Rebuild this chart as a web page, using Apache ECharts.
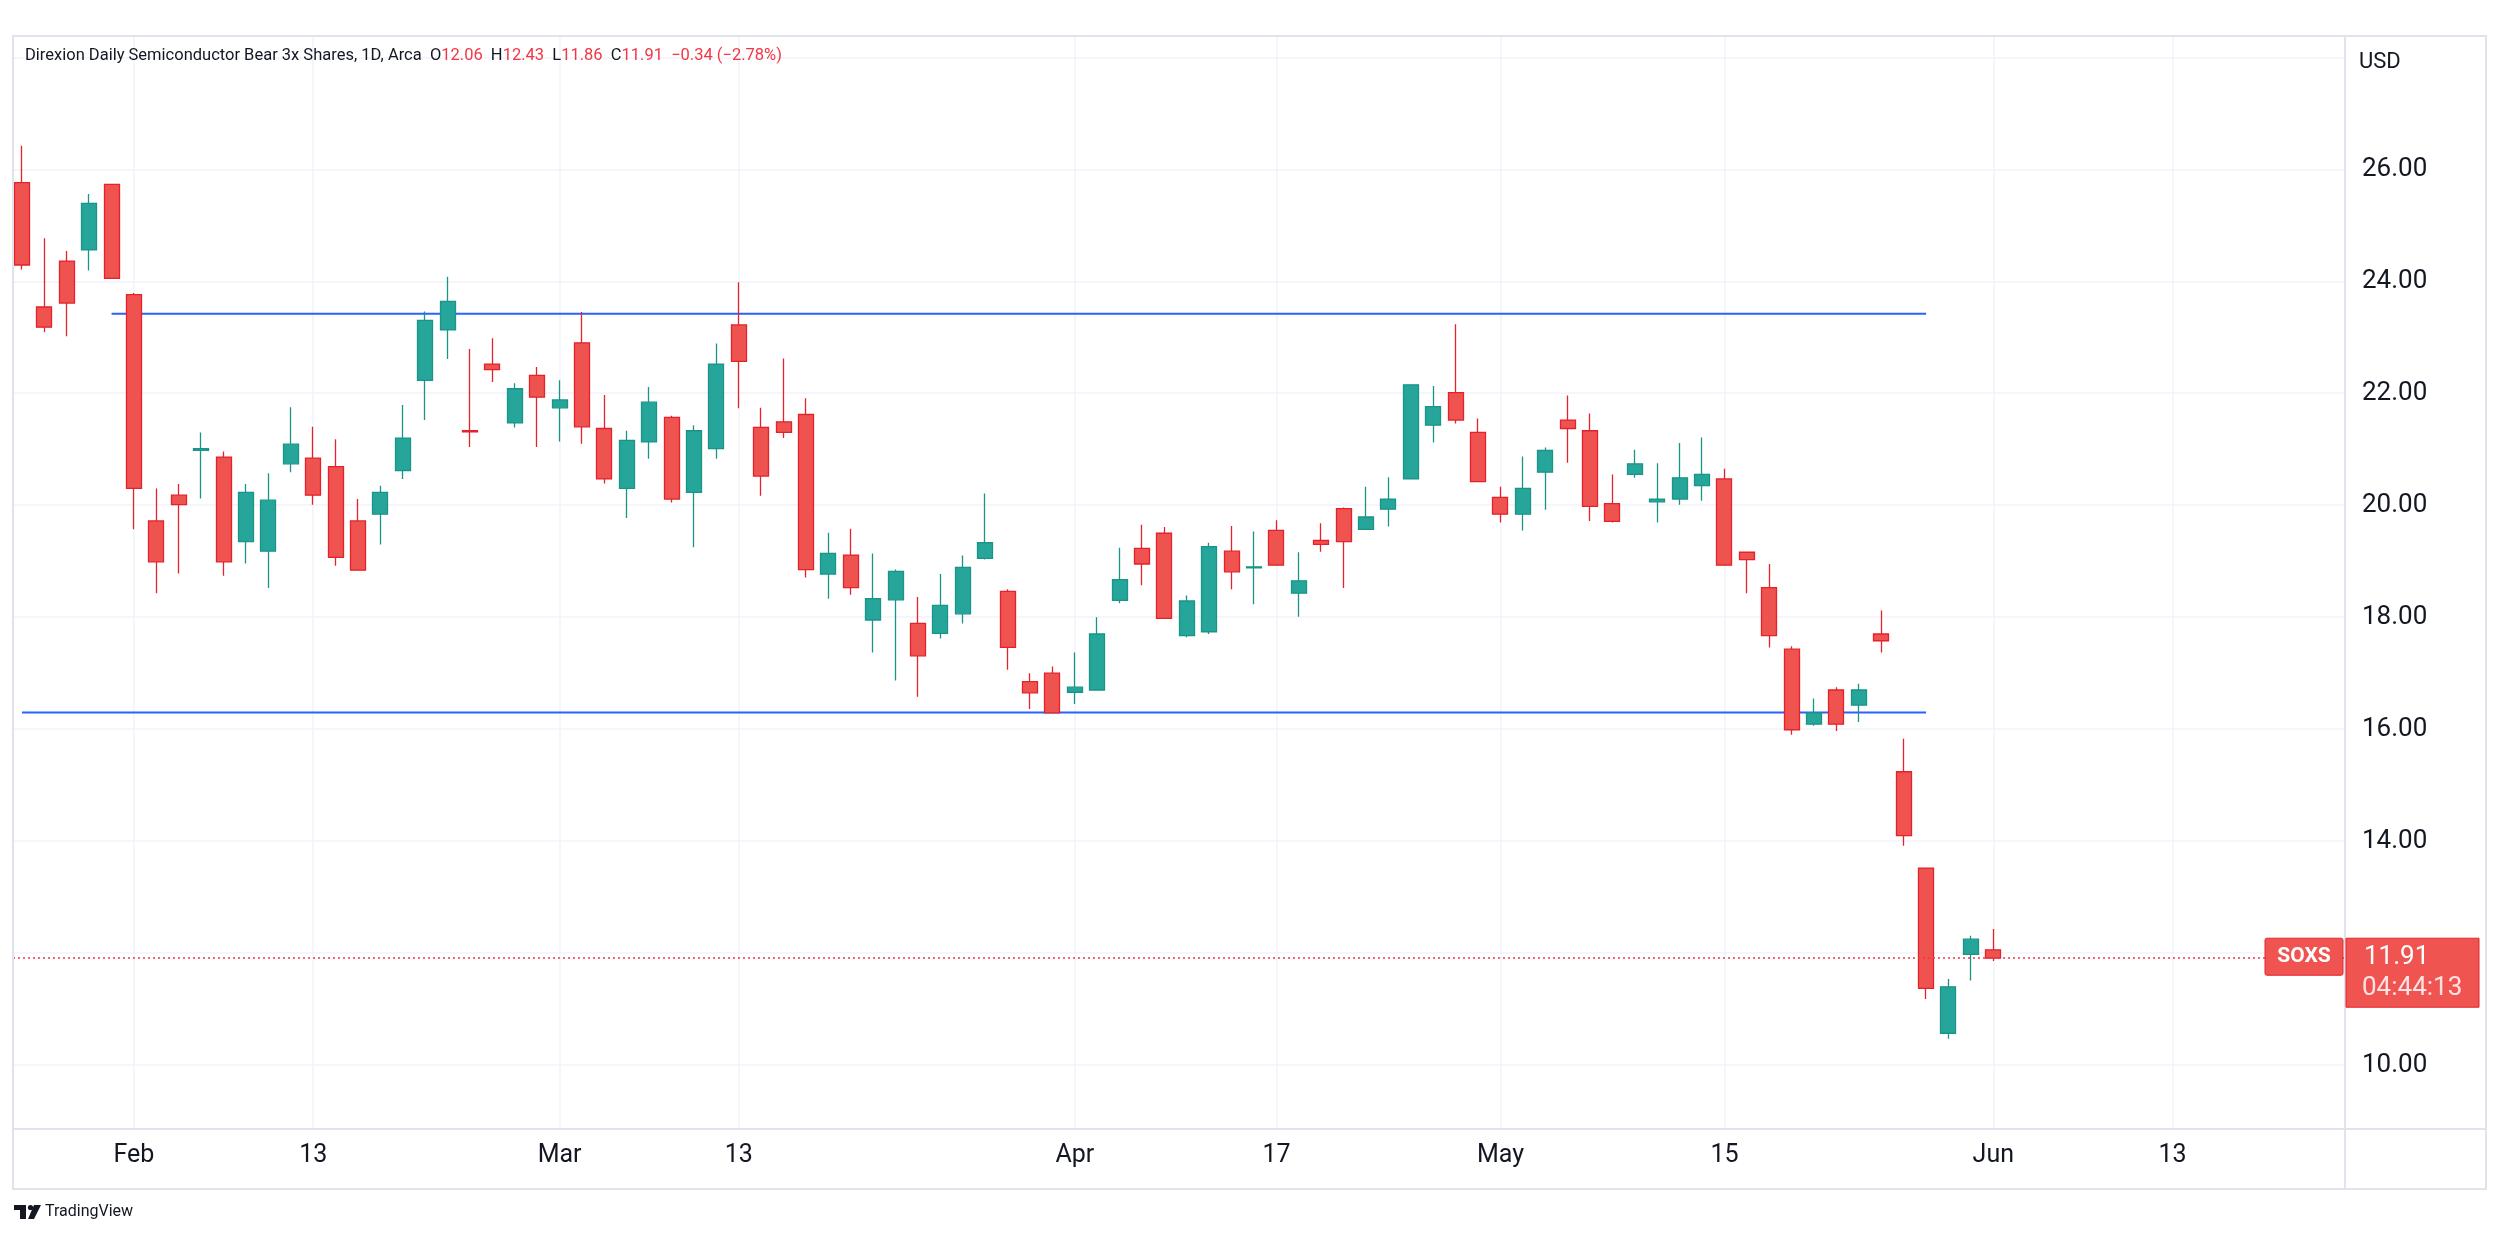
<!DOCTYPE html>
<html>
<head>
<meta charset="utf-8">
<title>SOXS daily</title>
<script src="https://cdn.jsdelivr.net/npm/echarts@6/dist/echarts.min.js"></script>
<style>
html, body { margin: 0; padding: 0; background: #fff; }
#chart { width: 2500px; height: 1236px; }
</style>
</head>
<body>
<div id="chart"></div>
<script>
// trading days (the last 8 are empty future slots on the time scale)
const dates = [
    '2023-01-25', '2023-01-26', '2023-01-27', '2023-01-30', '2023-01-31',
    '2023-02-01', '2023-02-02', '2023-02-03', '2023-02-06', '2023-02-07', '2023-02-08', '2023-02-09', '2023-02-10',
    '2023-02-13', '2023-02-14', '2023-02-15', '2023-02-16', '2023-02-17', '2023-02-21', '2023-02-22', '2023-02-23',
    '2023-02-24', '2023-02-27', '2023-02-28',
    '2023-03-01', '2023-03-02', '2023-03-03', '2023-03-06', '2023-03-07', '2023-03-08', '2023-03-09', '2023-03-10',
    '2023-03-13', '2023-03-14', '2023-03-15', '2023-03-16', '2023-03-17', '2023-03-20', '2023-03-21', '2023-03-22',
    '2023-03-23', '2023-03-24', '2023-03-27', '2023-03-28', '2023-03-29', '2023-03-30', '2023-03-31',
    '2023-04-03', '2023-04-04', '2023-04-05', '2023-04-06', '2023-04-10', '2023-04-11', '2023-04-12', '2023-04-13',
    '2023-04-14', '2023-04-17', '2023-04-18', '2023-04-19', '2023-04-20', '2023-04-21', '2023-04-24', '2023-04-25',
    '2023-04-26', '2023-04-27', '2023-04-28',
    '2023-05-01', '2023-05-02', '2023-05-03', '2023-05-04', '2023-05-05', '2023-05-08', '2023-05-09', '2023-05-10',
    '2023-05-11', '2023-05-12', '2023-05-15', '2023-05-16', '2023-05-17', '2023-05-18', '2023-05-19', '2023-05-22',
    '2023-05-23', '2023-05-24', '2023-05-25', '2023-05-26', '2023-05-30', '2023-05-31',
    '2023-06-01', '2023-06-02', '2023-06-05', '2023-06-06', '2023-06-07', '2023-06-08', '2023-06-09', '2023-06-12',
    '2023-06-13'
];

const opens = [
    25.76, 23.54, 24.36, 24.56, 25.73,
    23.76, 19.72, 20.18, 20.98, 20.86, 19.35, 19.18, 20.74,
    20.84, 20.69, 19.72, 19.84, 20.62, 22.23, 23.13, 21.33, 22.52, 21.47, 22.32,
    21.74, 22.90, 21.37, 20.30, 21.13, 21.57, 20.23, 21.01,
    23.22, 21.39, 21.49, 21.62, 18.77, 19.11, 17.95, 18.31, 17.89, 17.71, 18.06, 19.05, 18.46, 16.85, 17.00,
    16.66, 16.70, 18.30, 19.23, 19.50, 17.67, 17.74, 19.18, 18.88,
    19.55, 18.43, 19.37, 19.94, 19.57, 19.93, 20.47, 21.43, 22.01, 21.30,
    20.14, 19.84, 20.59, 21.52, 21.33, 20.03, 20.55, 20.06, 20.11, 20.35,
    20.47, 19.16, 18.53, 17.43, 16.09, 16.70, 16.43, 17.70, 15.24, 13.52, 10.57, 11.98,
    12.06
];
const highs = [
    26.42, 24.77, 24.54, 25.56, 25.74,
    23.79, 20.30, 20.38, 21.30, 20.96, 20.38, 20.57, 21.75,
    21.40, 21.18, 20.11, 20.35, 21.79, 23.46, 24.08, 22.79, 22.98, 22.18, 22.47,
    22.23, 23.45, 21.97, 21.33, 22.11, 21.60, 21.43, 22.89,
    23.98, 21.74, 22.62, 21.91, 19.51, 19.58, 19.14, 18.85, 18.36, 18.77, 19.10, 20.21, 18.50, 17.00, 17.12,
    17.37, 18.00, 19.24, 19.65, 19.61, 18.39, 19.33, 19.63, 19.53,
    19.73, 19.16, 19.68, 19.96, 20.33, 20.50, 22.16, 22.13, 23.23, 21.55,
    20.33, 20.87, 21.03, 21.96, 21.64, 20.55, 20.99, 20.75, 21.11, 21.21,
    20.65, 19.17, 18.95, 17.48, 16.55, 16.75, 16.81, 18.12, 15.83, 13.53, 11.54, 12.31,
    12.43
];
const lows = [
    24.21, 23.09, 23.02, 24.19, 24.04,
    19.57, 18.43, 18.78, 20.12, 18.74, 18.96, 18.52, 20.59,
    20.01, 18.92, 18.83, 19.30, 20.47, 21.52, 22.61, 21.04, 22.20, 21.39, 21.04,
    21.14, 21.10, 20.39, 19.77, 20.83, 20.05, 19.25, 20.83,
    21.73, 20.17, 21.20, 18.71, 18.33, 18.40, 17.37, 16.87, 16.58, 17.62, 17.89, 19.03, 17.06, 16.36, 16.28,
    16.45, 16.69, 18.25, 18.57, 17.97, 17.64, 17.70, 18.50, 18.23,
    18.92, 18.01, 19.17, 18.52, 19.56, 19.62, 20.46, 21.12, 21.46, 20.41,
    19.69, 19.55, 19.92, 20.76, 19.72, 19.69, 20.49, 19.69, 20.01, 20.08,
    18.92, 18.43, 17.46, 15.90, 16.06, 15.97, 16.13, 17.37, 13.92, 11.18, 10.47, 11.51,
    11.86
];
const closes = [
    24.29, 23.18, 23.61, 25.39, 24.05,
    20.30, 18.99, 20.01, 21.01, 18.99, 20.23, 20.09, 21.09,
    20.18, 19.07, 18.84, 20.23, 21.20, 23.30, 23.64, 21.31, 22.42, 22.08, 21.93,
    21.88, 21.40, 20.47, 21.16, 21.84, 20.11, 21.33, 22.52,
    22.57, 20.52, 21.30, 18.85, 19.14, 18.53, 18.33, 18.82, 17.31, 18.21, 18.89, 19.33, 17.46, 16.65, 16.29,
    16.75, 17.70, 18.67, 18.95, 17.98, 18.29, 19.26, 18.81, 18.90,
    18.93, 18.65, 19.30, 19.35, 19.79, 20.11, 22.15, 21.76, 21.52, 20.42,
    19.84, 20.30, 20.98, 21.37, 19.98, 19.71, 20.74, 20.11, 20.49, 20.55,
    18.93, 19.03, 17.67, 15.99, 16.29, 16.09, 16.70, 17.58, 14.10, 11.37, 11.40, 12.25,
    11.91
];

const tickDates = ['2023-02-01', '2023-02-13', '2023-03-01', '2023-03-13', '2023-04-03',
    '2023-04-17', '2023-05-01', '2023-05-15', '2023-06-01', '2023-06-13'];
const tickLabels = ['Feb', '13', 'Mar', '13', 'Apr', '17', 'May', '15', 'Jun', '13'];
const priceLabels = [10, 12, 14, 16, 18, 20, 22, 24, 26];
const priceGrid = [10, 12, 14, 16, 18, 20, 22, 24, 26, 28];

// horizontal levels drawn on the chart
const resistanceLevel = 23.42;
const resistanceFrom = '2023-01-31';
const supportLevel = 16.30;
const supportFrom = '2023-01-25';
const levelsTo = '2023-05-26';

const symbol = 'SOXS';
const countdown = '04:44:13';
const header = 'Direxion Daily Semiconductor Bear 3x Shares, 1D, Arca';

const FONT = 'Roboto, "Noto Sans", sans-serif';
const TEXT = '#131722';
const RED = '#f23645';
const LINE = '#e0e3eb';

const idx = d => dates.indexOf(d);
const tickIdx = tickDates.map(idx);
const tickName = {};
tickIdx.forEach((v, i) => { tickName[v] = tickLabels[i]; });

const candles = opens.map((o, i) => [i, o, closes[i], lows[i], highs[i]]);
const last = opens.length - 1;
const change = closes[last] - closes[last - 1];
const changePct = change / closes[last - 1] * 100;
const fmt = v => (v < 0 ? '\u2212' : '') + Math.abs(v).toFixed(2);

const chart = echarts.init(document.getElementById('chart'));

const option = {
    animation: false,
    backgroundColor: '#ffffff',
    title: {
        left: 25,
        top: 47,
        padding: 0,
        text: '{t|' + header + '}  {k|O}{v|' + opens[last].toFixed(2) + '}  {k|H}{v|' + highs[last].toFixed(2) +
            '}  {k|L}{v|' + lows[last].toFixed(2) + '}  {k|C}{v|' + closes[last].toFixed(2) + '}  {v|' +
            fmt(change) + ' (' + fmt(changePct) + '%)}',
        textStyle: {
            fontSize: 16.5,
            fontWeight: 'normal',
            fontFamily: FONT,
            rich: {
                t: { fontSize: 16.5, color: TEXT, fontFamily: FONT },
                k: { fontSize: 16.5, color: TEXT, fontFamily: FONT },
                v: { fontSize: 16.5, color: RED, fontFamily: FONT }
            }
        }
    },
    grid: { left: 13, top: 36, width: 2332, height: 1093 },
    xAxis: {
        type: 'value',
        min: -0.4,
        max: 103.7,
        axisLine: { show: false },
        axisTick: { show: false, customValues: tickIdx },
        axisLabel: {
            customValues: tickIdx,
            formatter: v => tickName[v] || '',
            color: TEXT,
            fontSize: 25,
            fontFamily: FONT,
            margin: 14
        },
        splitLine: { show: true, lineStyle: { color: '#f0f3fa', width: 1.5 } }
    },
    yAxis: {
        type: 'value',
        position: 'right',
        min: 8.86,
        max: 28.38,
        axisLine: { show: false },
        axisTick: { show: false, customValues: priceGrid },
        axisLabel: {
            customValues: priceLabels,
            formatter: v => v.toFixed(2),
            color: TEXT,
            fontSize: 26,
            fontFamily: FONT,
            align: 'left',
            margin: 17
        },
        splitLine: { show: true, lineStyle: { color: '#f0f3fa', width: 1.5 } }
    },
    series: [
        {
            type: 'line',
            z: 1,
            silent: true,
            symbol: 'none',
            data: [[idx(resistanceFrom), resistanceLevel], [idx(levelsTo), resistanceLevel]],
            lineStyle: { color: '#2962ff', width: 2 }
        },
        {
            type: 'line',
            z: 1,
            silent: true,
            symbol: 'none',
            data: [[idx(supportFrom), supportLevel], [idx(levelsTo), supportLevel]],
            lineStyle: { color: '#2962ff', width: 2 }
        },
        {
            type: 'candlestick',
            z: 3,
            data: candles,
            encode: { x: 0, y: [1, 2, 3, 4] },
            barWidth: 15.5,
            itemStyle: {
                color: '#26a69a',
                color0: '#ef5350',
                borderColor: '#1a9486',
                borderColor0: '#e5212b',
                borderWidth: 1.3
            },
            markLine: {
                silent: true,
                symbol: 'none',
                label: { show: false },
                lineStyle: { color: RED, type: [2, 3], width: 1.5 },
                data: [{ yAxis: closes[last] }]
            }
        }
    ]
};

chart.setOption(option);

// frame, price tag and footer
const lastY = chart.convertToPixel({ yAxisIndex: 0 }, closes[last]);
chart.setOption({
    graphic: [
        { type: 'rect', shape: { x: 13, y: 36, width: 2473, height: 1153 }, style: { fill: 'none', stroke: LINE, lineWidth: 2 }, z: 50 },
        { type: 'line', shape: { x1: 2345, y1: 36, x2: 2345, y2: 1189 }, style: { stroke: LINE, lineWidth: 2 }, z: 50 },
        { type: 'line', shape: { x1: 13, y1: 1129, x2: 2486, y2: 1129 }, style: { stroke: LINE, lineWidth: 2 }, z: 50 },
        { type: 'text', x: 2359, y: 62, style: { text: 'USD', fill: TEXT, font: '22px ' + FONT, verticalAlign: 'middle' }, z: 50 },
        { type: 'rect', shape: { x: 2265, y: lastY - 20, width: 78, height: 37, r: 2 }, style: { fill: '#f05451', stroke: '#e3252e', lineWidth: 1 }, z: 60 },
        { type: 'text', x: 2304, y: lastY - 1, style: { text: symbol, fill: '#fff', font: 'bold 21px ' + FONT, align: 'center', verticalAlign: 'middle' }, z: 61 },
        { type: 'rect', shape: { x: 2346, y: lastY - 20, width: 133, height: 69 }, style: { fill: '#f05451', stroke: '#e3252e', lineWidth: 1 }, z: 60 },
        { type: 'text', x: 2364, y: lastY - 1, style: { text: closes[last].toFixed(2), fill: '#fff', font: '26px ' + FONT, verticalAlign: 'middle' }, z: 61 },
        { type: 'text', x: 2362, y: lastY + 30, style: { text: countdown, fill: '#ffe3e3', font: '26px ' + FONT, verticalAlign: 'middle' }, z: 61 },
        // TradingView mark
        { type: 'rect', shape: { x: 14, y: 1205, width: 12, height: 5 }, style: { fill: '#131722' } },
        { type: 'rect', shape: { x: 20, y: 1205, width: 6, height: 14 }, style: { fill: '#131722' } },
        { type: 'circle', shape: { cx: 30.5, cy: 1207.5, r: 2.6 }, style: { fill: '#131722' } },
        { type: 'polygon', shape: { points: [[34, 1205], [41, 1205], [34, 1219], [28, 1219]] }, style: { fill: '#131722' } },
        { type: 'text', x: 45, y: 1212, style: { text: 'TradingView', fill: TEXT, font: '16px ' + FONT, verticalAlign: 'middle' } }
    ]
});

window.addEventListener('resize', () => chart.resize());
</script>
</body>
</html>
